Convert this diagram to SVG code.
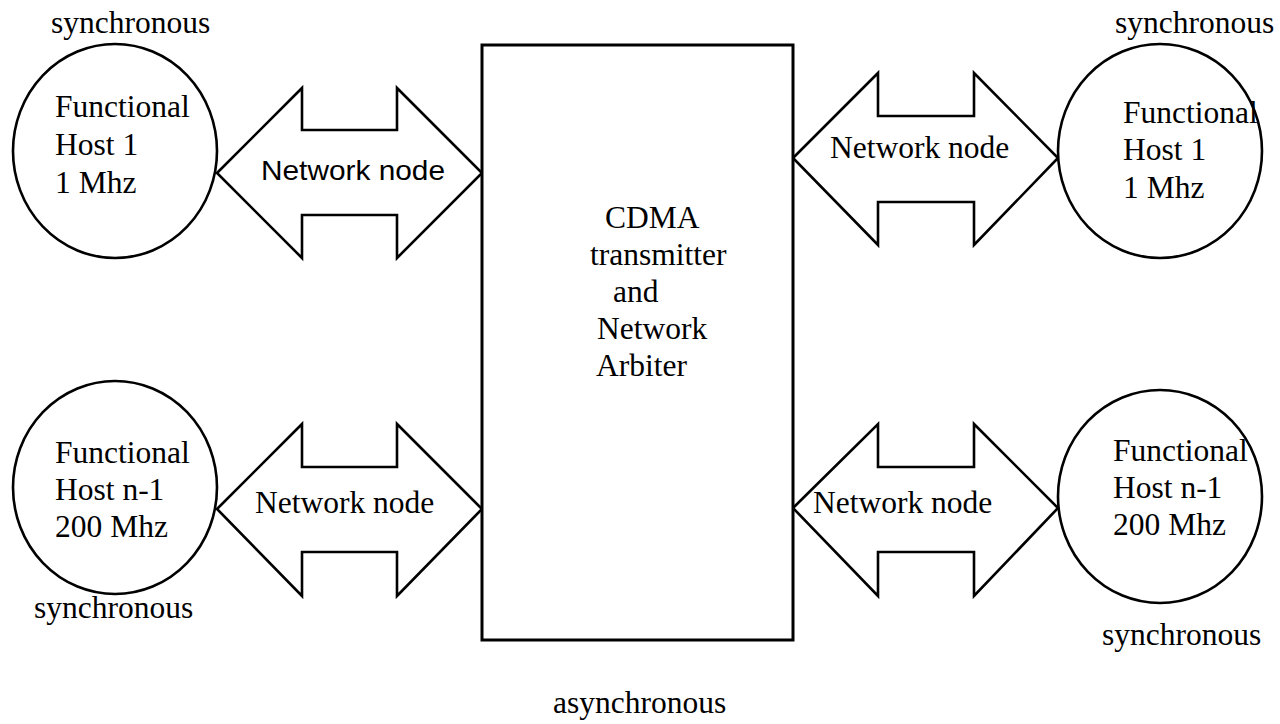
<svg xmlns="http://www.w3.org/2000/svg" width="1280" height="724" viewBox="0 0 1280 724">
<style>
.bg{fill:#fff}
.shape{fill:#fff;stroke:#000;stroke-width:2.6}
.t{font-family:"Liberation Serif","Times New Roman",serif;font-size:31.5px;fill:#000}
.s{font-family:"Liberation Sans",Arial,sans-serif;font-size:28px;fill:#000}
</style>
<rect class="bg" x="0" y="0" width="1280" height="724"/>
<g id="connectors">
  <g id="arrow-tl">
    <polygon class="shape" points="217,173 302,88 302,130 397,130 397,88 482,173 397,258 397,215 302,215 302,258"/>
    <text class="s" x="261" y="180" textLength="184" lengthAdjust="spacingAndGlyphs">Network node</text>
  </g>
  <g id="arrow-tr">
    <polygon class="shape" points="793,158 878,73 878,116 974,116 974,73 1058,158 974,245 974,202 878,202 878,245"/>
    <text class="t" x="830" y="158">Network node</text>
  </g>
  <g id="arrow-bl">
    <polygon class="shape" points="217,509 302,424 302,467 397,467 397,424 482,509 397,596 397,552 302,552 302,596"/>
    <text class="t" x="255" y="513">Network node</text>
  </g>
  <g id="arrow-br">
    <polygon class="shape" points="793,508 878,424 878,467 974,467 974,424 1058,508 974,596 974,552 878,552 878,596"/>
    <text class="t" x="813" y="513">Network node</text>
  </g>
</g>
<g id="arbiter">
  <rect class="shape" x="482" y="45" width="311" height="595" style="stroke-width:3"/>
  <text class="t" x="605" y="228">CDMA</text>
  <text class="t" x="590" y="265">transmitter</text>
  <text class="t" x="613" y="302">and</text>
  <text class="t" x="597" y="339">Network</text>
  <text class="t" x="596" y="376">Arbiter</text>
</g>
<g id="host-tl">
  <ellipse class="shape" cx="115" cy="151" rx="102" ry="107"/>
  <text class="t" x="55" y="117">Functional</text>
  <text class="t" x="55" y="155">Host 1</text>
  <text class="t" x="55" y="193">1 Mhz</text>
  <text class="t" x="51" y="33">synchronous</text>
</g>
<g id="host-tr">
  <ellipse class="shape" cx="1160" cy="151" rx="102" ry="107"/>
  <text class="t" x="1123" y="123">Functional</text>
  <text class="t" x="1123" y="160">Host 1</text>
  <text class="t" x="1123" y="198">1 Mhz</text>
  <text class="t" x="1115" y="33">synchronous</text>
</g>
<g id="host-bl">
  <ellipse class="shape" cx="115" cy="487.5" rx="102" ry="106.5"/>
  <text class="t" x="55" y="463">Functional</text>
  <text class="t" x="55" y="500">Host n-1</text>
  <text class="t" x="55" y="537">200 Mhz</text>
  <text class="t" x="34" y="618">synchronous</text>
</g>
<g id="host-br">
  <ellipse class="shape" cx="1160" cy="496.5" rx="102" ry="106.5"/>
  <text class="t" x="1113" y="461">Functional</text>
  <text class="t" x="1113" y="498">Host n-1</text>
  <text class="t" x="1113" y="535">200 Mhz</text>
  <text class="t" x="1102" y="645">synchronous</text>
</g>
<text id="async-label" class="t" x="553" y="713">asynchronous</text>
</svg>
